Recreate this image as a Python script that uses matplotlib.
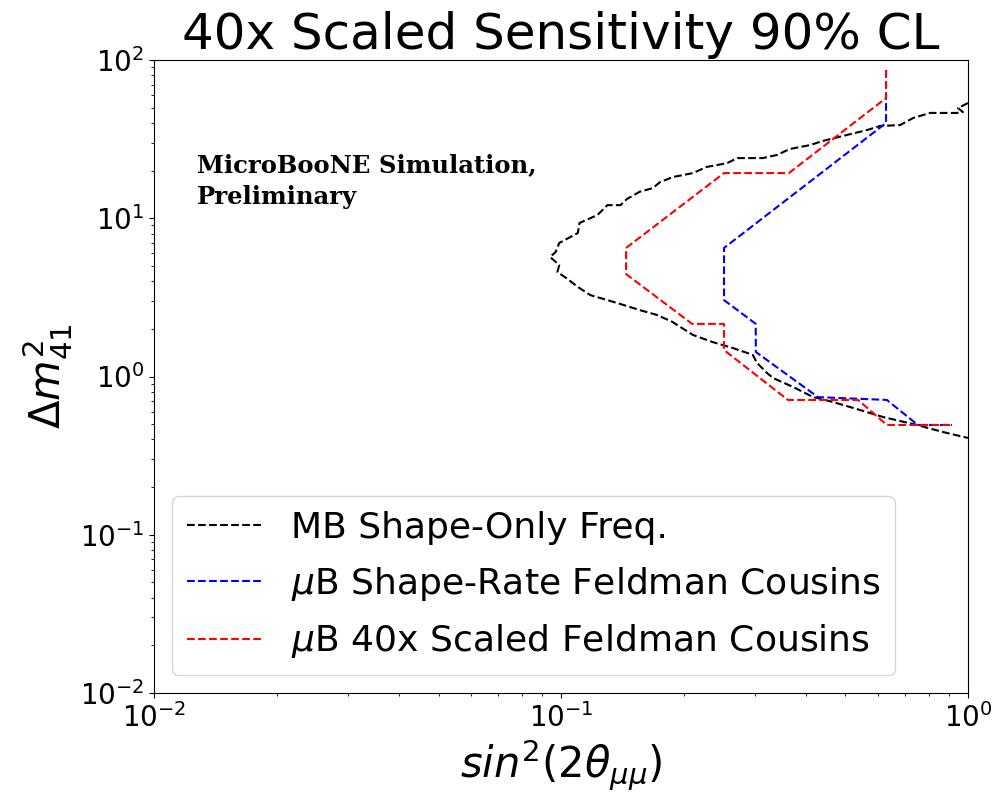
import numpy as np
import matplotlib.pyplot as plt

# MB shape-only frequentist contour (sin^2 2theta, dm2)
mb_x = [1.0, 0.945, 0.972, 0.940, 0.807, 0.733, 0.681, 0.608, 0.565, 0.504,
        0.440, 0.409, 0.365, 0.339, 0.313, 0.271, 0.256, 0.228, 0.211, 0.188,
        0.175, 0.168, 0.156, 0.145, 0.140, 0.130, 0.123, 0.111, 0.110, 0.099,
        0.097, 0.094, 0.099, 0.098, 0.103, 0.110, 0.118, 0.130, 0.140, 0.156,
        0.172, 0.188, 0.211, 0.236, 0.265, 0.296, 0.303, 0.321, 0.332, 0.372,
        0.416, 0.466, 0.543, 0.618, 0.749, 0.868, 1.0]
mb_y = [53.5, 49.7, 46.9, 46.3, 46.3, 43.0, 38.8, 38.3, 36.1, 33.6,
        30.8, 29.0, 27.4, 25.1, 24.0, 24.0, 22.3, 21.1, 19.3, 18.2,
        16.9, 15.5, 14.7, 13.2, 12.1, 12.1, 10.5, 9.33, 8.07, 6.98,
        6.12, 5.69, 5.07, 4.57, 4.19, 3.68, 3.27, 3.04, 2.87, 2.63,
        2.45, 2.21, 1.83, 1.65, 1.51, 1.37, 1.22, 1.05, 0.978, 0.858,
        0.742, 0.690, 0.614, 0.555, 0.494, 0.446, 0.409]

# uB shape+rate Feldman Cousins
sr_x = [0.629, 0.629, 0.2515, 0.2515, 0.301, 0.301, 0.428, 0.632, 0.753, 0.913]
sr_y = [86.5, 40.0, 6.49, 3.04, 2.15, 1.43, 0.741, 0.711, 0.494, 0.494]

# uB 40x scaled Feldman Cousins
sc_x = [0.629, 0.629, 0.363, 0.2515, 0.1445, 0.1445, 0.210, 0.2515, 0.2515,
        0.361, 0.537, 0.632, 0.913]
sc_y = [86.5, 57.5, 19.3, 19.3, 6.49, 4.44, 2.15, 2.15, 1.47,
        0.711, 0.711, 0.494, 0.494]

labels = ["MB Shape-Only Freq.",
          r"$\mu$B Shape-Rate Feldman Cousins",
          r"$\mu$B 40x Scaled Feldman Cousins"]

fig = plt.figure(figsize=(9.97, 7.97), dpi=100)
ax = fig.add_axes([0.1545, 0.1305, 0.8164, 0.7942])

ax.plot(mb_x, mb_y, 'k--', lw=1.5, label=labels[0])
ax.plot(sr_x, sr_y, 'b--', lw=1.5, label=labels[1])
ax.plot(sc_x, sc_y, 'r--', lw=1.5, label=labels[2])

ax.set_xscale('log')
ax.set_yscale('log')
ax.set_xlim(1e-2, 1)
ax.set_ylim(1e-2, 1e2)
ax.tick_params(labelsize=20)

ax.set_xlabel(r"$sin^2(2\theta_{\mu\mu})$", fontsize=30)
ax.set_ylabel(r"$\Delta m^2_{41}$", fontsize=30)
ax.set_title("40x Scaled Sensitivity 90% CL", fontsize=36, pad=8)

ax.text(0.053, 0.853, "MicroBooNE Simulation,\nPreliminary", transform=ax.transAxes,
        fontsize=17.5, fontweight='bold', family='DejaVu Serif', va='top', ha='left',
        linespacing=1.4)

ax.legend(loc='lower left', fontsize=26, handlelength=2.1, labelspacing=0.55)

fig.savefig("out.png", dpi=100)
